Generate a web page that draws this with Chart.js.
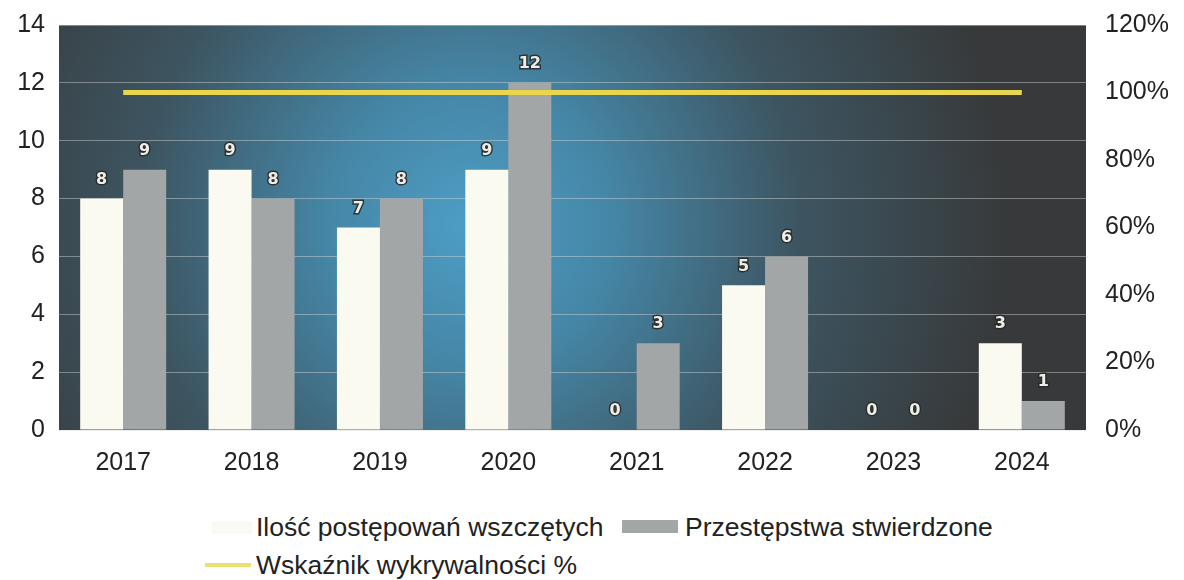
<!DOCTYPE html>
<html lang="pl">
<head>
<meta charset="utf-8">
<script src="https://cdn.jsdelivr.net/npm/chart.js@4/dist/chart.umd.min.js"></script>
<style>
  body { margin: 0; background: #fff; font-family: "Liberation Sans", Arial, sans-serif; overflow: hidden; }
  #wrap { position: relative; width: 1184px; height: 580px; overflow: hidden; }
  #box { position: absolute; left: 0; top: -9px; width: 1184px; height: 504px; }
  .leg { position: absolute; font-size: 26.5px; color: #222; white-space: nowrap; line-height: 30px; }
  .sw { position: absolute; }
</style>
</head>
<body>
<div id="wrap">
  <div id="box"><canvas id="wykres"></canvas></div>
  <div class="sw" style="left:212px;top:521px;width:40px;height:13px;background:#fafaf2;"></div>
  <div class="leg" style="left:256px;top:512px;">Ilość postępowań wszczętych</div>
  <div class="sw" style="left:622px;top:520px;width:56px;height:13px;background:#a2a6a6;"></div>
  <div class="leg" style="left:685px;top:512px;">Przestępstwa stwierdzone</div>
  <div class="sw" style="left:205px;top:563px;width:46px;height:4px;background:#ece070;"></div>
  <div class="leg" style="left:256px;top:550px;">Wskaźnik wykrywalności %</div>
</div>
<script>
// Dane wykresu
const lata = ['2017', '2018', '2019', '2020', '2021', '2022', '2023', '2024'];
const wszczete = [8, 9, 7, 9, 0, 5, 0, 3];
const stwierdzone = [9, 8, 8, 12, 3, 6, 0, 1];
const wykrywalnosc = [100, 100, 100, 100, 100, 100, 100, 100];
const lewaOs = [0, 14, 2];     // min, max, krok
const prawaOs = [0, 120, 20];  // min, max, krok (%)

// Tło obszaru wykresu: ciemne z niebieską poświatą
const tloPlugin = {
    id: 'tlo',
    beforeDraw(chart) {
        const { ctx, chartArea: a } = chart;
        ctx.save();
        const g = ctx.createRadialGradient(470, 234, 10, 470, 234, 540);
        g.addColorStop(0, '#4d9cc4');
        g.addColorStop(0.25, '#4586a6');
        g.addColorStop(0.6, '#3d5561');
        g.addColorStop(1, '#37393a');
        ctx.fillStyle = g;
        ctx.fillRect(a.left, a.top, a.right - a.left, a.bottom - a.top);
        ctx.restore();
    }
};

// Etykiety wartości nad słupkami
const etykietyPlugin = {
    id: 'etykiety',
    afterDatasetsDraw(chart) {
        const ctx = chart.ctx;
        ctx.save();
        ctx.font = 'bold 16px "DejaVu Sans", sans-serif';
        ctx.textAlign = 'center';
        ctx.textBaseline = 'middle';
        chart.data.datasets.forEach((ds, i) => {
            if (ds.type === 'line') return;
            chart.getDatasetMeta(i).data.forEach((bar, j) => {
                const y = bar.y - 19;
                ctx.lineWidth = 3;
                ctx.strokeStyle = 'rgba(40,40,40,0.85)';
                ctx.strokeText(ds.data[j], bar.x, y);
                ctx.fillStyle = '#eeeee6';
                ctx.fillText(ds.data[j], bar.x, y);
            });
        });
        ctx.restore();
    }
};

const font = { size: 25, family: '"Liberation Sans", Arial' };

new Chart(document.getElementById('wykres'), {
    data: {
        labels: lata,
        datasets: [
            {
                type: 'line',
                label: 'Wskaźnik wykrywalności %',
                data: wykrywalnosc,
                yAxisID: 'y1',
                borderColor: '#e9d64c',
                borderWidth: 5,
                pointRadius: 0,
                order: 0
            },
            {
                type: 'bar',
                label: 'Ilość postępowań wszczętych',
                data: wszczete,
                backgroundColor: '#fafaf0',
                yAxisID: 'y',
                order: 1
            },
            {
                type: 'bar',
                label: 'Przestępstwa stwierdzone',
                data: stwierdzone,
                backgroundColor: '#a2a6a6',
                yAxisID: 'y',
                order: 1
            }
        ]
    },
    options: {
        responsive: true,
        maintainAspectRatio: false,
        animation: false,
        layout: { padding: { top: 7, left: 0, right: 0, bottom: 0 } },
        datasets: { bar: { barPercentage: 1, categoryPercentage: 0.67 } },
        plugins: { legend: { display: false }, tooltip: { enabled: false } },
        scales: {
            x: {
                grid: { display: false, drawTicks: false },
                border: { display: false },
                ticks: { color: '#222', font: font, padding: 18 },
                afterFit(s) { s.height = 65; }
            },
            y: {
                position: 'left',
                min: lewaOs[0], max: lewaOs[1],
                ticks: { stepSize: lewaOs[2], color: '#222', font: font, padding: 14 },
                grid: { color: 'rgba(215,220,220,0.45)', lineWidth: 1, drawTicks: false },
                border: { display: false },
                afterFit(s) { s.width = 59; }
            },
            y1: {
                position: 'right',
                min: prawaOs[0], max: prawaOs[1],
                ticks: {
                    stepSize: prawaOs[2], color: '#222', padding: 19, font: font,
                    callback: v => v + '%'
                },
                grid: { display: false, drawTicks: false },
                border: { display: false },
                afterFit(s) { s.width = 98; }
            }
        }
    },
    plugins: [tloPlugin, etykietyPlugin]
});
</script>
</body>
</html>
